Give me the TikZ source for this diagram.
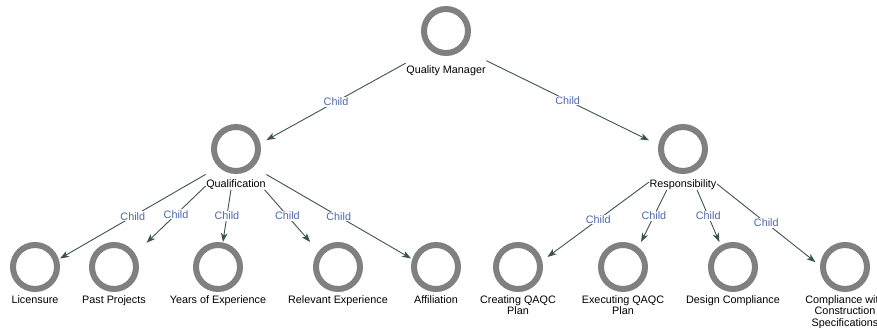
\documentclass[tikz,border=0pt]{standalone}
\usepackage{fontspec}
\setmainfont{Liberation Sans}
\usetikzlibrary{fit,arrows.meta}
\definecolor{ringgray}{RGB}{128,128,128}
\definecolor{edgecol}{RGB}{58,84,74}
\definecolor{childcol}{RGB}{78,104,170}
\tikzset{
  ring/.style={circle, draw=ringgray, line width=6pt, minimum size=44pt, inner sep=0pt},
  lbl/.style={font=\fontsize{10.8}{11.6}\selectfont, align=center, inner sep=0.5pt, text=black},
  boxfit/.style={inner sep=0pt, outer sep=0pt, draw=none},
  edge/.style={draw=edgecol, line width=0.9pt, -{Stealth[length=9pt,width=6.5pt,inset=2.5pt]}},
  childlbl/.style={midway, fill=white, inner sep=1pt, text=childcol, font=\fontsize{10.8}{12}\selectfont}
}
% #4 = baseline of the last text line
\newcommand\ringnode[5]{%
  \node[ring] (#1C) at (#2,#3) {};
  \node[lbl, anchor=base] (#1L) at (#2,#4) {#5};
  \node[boxfit, fit=(#1C)(#1L)] (#1) {};
}
% wrapped label: box as wide as the ring plus a little
\newcommand\ringnodew[5]{%
  \node[ring] (#1C) at (#2,#3) {};
  \node[lbl, anchor=base] (#1L) at (#2,#4) {#5};
  \node[boxfit, inner xsep=4.5pt, fit=(#1C)(#1L.south)] (#1) {};
}
\begin{document}
\begin{tikzpicture}[x=1pt,y=-1pt]
\useasboundingbox (0,0) rectangle (877,327);
\ringnode{qm}{446}{31}{73}{Quality Manager}
\ringnode{qual}{236}{149}{187}{Qualification}
\ringnode{resp}{683}{149}{187}{Responsibility}
\ringnode{lic}{35}{267}{303}{Licensure}
\ringnode{past}{114}{267}{303}{Past Projects}
\ringnode{years}{218}{267}{303}{Years of Experience}
\ringnode{rel}{338}{267}{303}{Relevant Experience}
\ringnode{aff}{436}{267}{303}{Affiliation}
\ringnodew{create}{518}{267}{314.6}{Creating QAQC\\Plan}
\ringnodew{exec}{623}{267}{314.6}{Executing QAQC\\Plan}
\ringnode{design}{733}{267}{303}{Design Compliance}
\ringnodew{comp}{845}{267}{326.2}{Compliance with\\Construction\\Specifications}
\draw[edge] (qm) -- node[childlbl]{Child} (qual);
\draw[edge] (qm) -- node[childlbl]{Child} (resp);
\draw[edge] (qual) -- node[childlbl]{Child} (lic);
\draw[edge] (qual) -- node[childlbl]{Child} (past);
\draw[edge] (qual) -- node[childlbl]{Child} (years);
\draw[edge] (qual) -- node[childlbl]{Child} (rel);
\draw[edge] (qual) -- node[childlbl]{Child} (aff);
\draw[edge] (resp) -- node[childlbl]{Child} (create);
\draw[edge] (resp) -- node[childlbl]{Child} (exec);
\draw[edge] (resp) -- node[childlbl]{Child} (design);
\draw[edge] (resp) -- node[childlbl]{Child} (comp);
\end{tikzpicture}
\end{document}
